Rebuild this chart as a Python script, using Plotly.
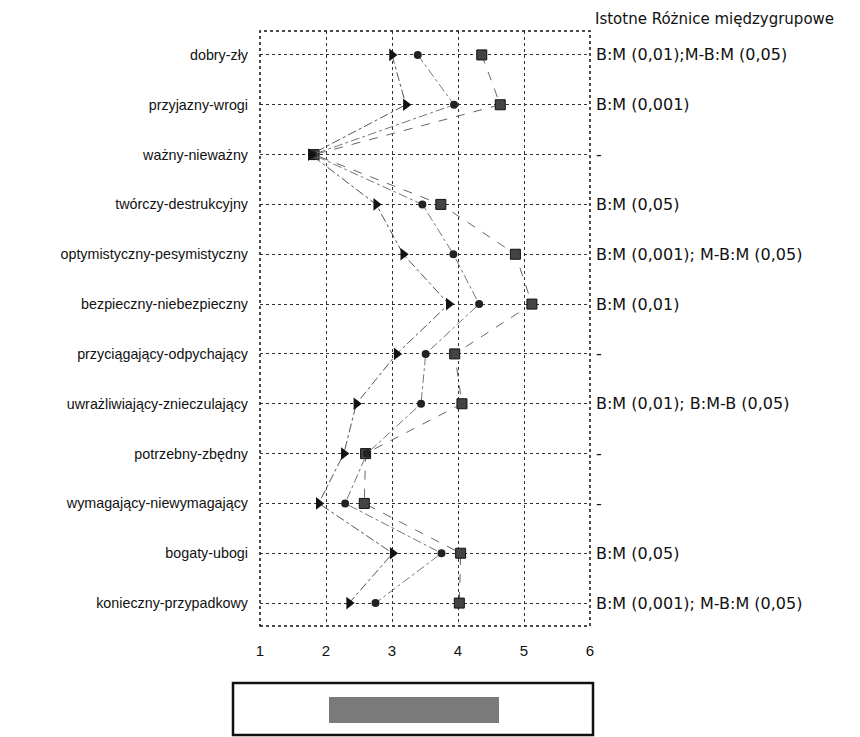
import plotly.graph_objects as go

categories = ["dobry-zły", "przyjazny-wrogi", "ważny-nieważny", "twórczy-destrukcyjny",
              "optymistyczny-pesymistyczny", "bezpieczny-niebezpieczny",
              "przyciągający-odpychający", "uwrażliwiający-znieczulający",
              "potrzebny-zbędny", "wymagający-niewymagający", "bogaty-ubogi",
              "konieczny-przypadkowy"]
series_triangle = [3.00, 3.21, 1.77, 2.76, 3.17, 3.86, 3.07, 2.46, 2.27, 1.89, 3.01, 2.35]
series_circle = [3.39, 3.94, 1.80, 3.46, 3.93, 4.32, 3.51, 3.44, 2.62, 2.29, 3.75, 2.75]
series_square = [4.36, 4.64, 1.82, 3.74, 4.87, 5.12, 3.95, 4.06, 2.60, 2.58, 4.04, 4.02]
differences = ["B:M (0,01);M-B:M (0,05)", "B:M (0,001)", "-", "B:M (0,05)",
               "B:M (0,001); M-B:M (0,05)", "B:M (0,01)", "-",
               "B:M (0,01); B:M-B (0,05)", "-", "-", "B:M (0,05)",
               "B:M (0,001); M-B:M (0,05)"]
header = "Istotne Różnice międzygrupowe"
x_ticks = [1, 2, 3, 4, 5, 6]

idx = list(range(len(categories)))
font = "Liberation Sans, Arial, sans-serif"
font_r = "DejaVu Sans, sans-serif"

fig = go.Figure()
fig.add_trace(go.Scatter(x=series_square, y=idx, mode="lines+markers",
                         line=dict(color="#666666", width=1, dash="dash"),
                         marker=dict(symbol="square", size=10, color="#444444",
                                     line=dict(color="#111111", width=1)),
                         showlegend=False))
fig.add_trace(go.Scatter(x=series_circle, y=idx, mode="lines+markers",
                         line=dict(color="#777777", width=1, dash="dashdot"),
                         marker=dict(symbol="circle", size=8, color="#222222"),
                         showlegend=False))
fig.add_trace(go.Scatter(x=series_triangle, y=idx, mode="lines+markers",
                         line=dict(color="#555555", width=1, dash="dashdot"),
                         marker=dict(symbol="triangle-right", size=11, color="#111111"),
                         showlegend=False))

fig.update_xaxes(range=[1, 6], tickvals=x_ticks, showgrid=True,
                 gridcolor="#333333", griddash="dot", gridwidth=1,
                 zeroline=False, showline=False, ticklabelstandoff=14,
                 tickfont=dict(family=font, size=15, color="#111111"))
fig.update_yaxes(range=[11.46, -0.48], tickvals=idx, ticktext=categories,
                 showgrid=True, gridcolor="#333333", griddash="dot", gridwidth=1,
                 zeroline=False, showline=False, ticklabelstandoff=11,
                 tickfont=dict(family=font, size=14.3, color="#111111"))

# plot border
fig.add_shape(type="rect", xref="paper", yref="paper", x0=0, y0=0, x1=1, y1=1,
              line=dict(color="#111111", width=1.5, dash="dot"))

for i, t in enumerate(differences):
    fig.add_annotation(x=1, y=i, xref="paper", yref="y", text=t, showarrow=False,
                       xanchor="left", xshift=4,
                       font=dict(family=font_r, size=16, color="#111111"))
fig.add_annotation(x=1, y=1, xref="paper", yref="paper", text=header, showarrow=False,
                   xanchor="left", yanchor="middle", xshift=3, yshift=12,
                   font=dict(family=font_r, size=15, color="#111111"))

# legend box (empty)
H = 595
fig.add_shape(type="rect", xref="paper", yref="paper",
              x0=(233 - 260) / 330, x1=(593 - 260) / 330,
              y0=-(735 - 626) / H, y1=-(683 - 626) / H,
              line=dict(color="#111111", width=2.5), fillcolor="white")
fig.add_shape(type="rect", xref="paper", yref="paper",
              x0=(329 - 260) / 330, x1=(499 - 260) / 330,
              y0=-(723 - 626) / H, y1=-(697 - 626) / H,
              line=dict(width=0), fillcolor="#7a7a7a")

fig.update_layout(width=860, height=737, plot_bgcolor="white", paper_bgcolor="white",
                  margin=dict(l=252, r=278, t=23, b=119), showlegend=False)
fig.write_html("out.html")
